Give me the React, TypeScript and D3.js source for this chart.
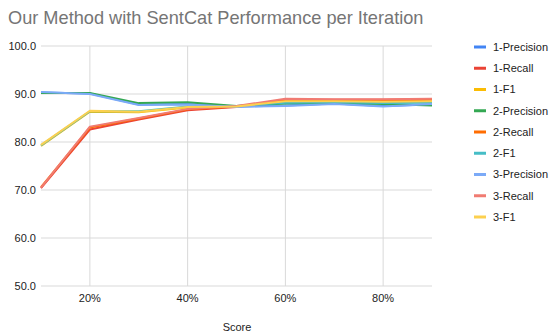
import React from "react";
import * as d3 from "d3";

// Iteration share (%) on the x axis
const iterations = [10, 20, 30, 40, 50, 60, 70, 80, 90];

const seriesNames = [
  "1-Precision", "1-Recall", "1-F1",
  "2-Precision", "2-Recall", "2-F1",
  "3-Precision", "3-Recall", "3-F1",
];

const precision1 = [90.3, 90.1, 87.8, 87.9, 87.4, 87.6, 88.0, 87.5, 87.8];
const recall1 = [70.4, 82.6, 84.7, 86.6, 87.3, 88.8, 88.8, 88.8, 88.9];
const f1_1 = [79.2, 86.3, 86.2, 87.2, 87.4, 88.4, 88.4, 88.3, 88.4];
const precision2 = [90.2, 90.2, 88.1, 88.3, 87.5, 88.0, 88.1, 87.9, 87.6];
const recall2 = [70.6, 83.0, 84.9, 86.8, 87.4, 88.7, 88.7, 88.6, 88.8];
const f1_2 = [79.3, 86.4, 86.4, 87.4, 87.5, 88.2, 88.3, 88.1, 88.2];
const precision3 = [90.4, 90.0, 87.7, 87.8, 87.3, 87.5, 87.9, 87.4, 87.9];
const recall3 = [70.5, 83.2, 85.0, 86.9, 87.5, 89.0, 88.9, 88.9, 89.0];
const f1_3 = [79.4, 86.5, 86.3, 87.3, 87.4, 88.5, 88.5, 88.4, 88.5];

const seriesValues = [
  precision1, recall1, f1_1,
  precision2, recall2, f1_2,
  precision3, recall3, f1_3,
];

const colors = [
  "#4285F4", "#EA4335", "#FBBC04",
  "#34A853", "#FF6D01", "#46BDC6",
  "#7BAAF7", "#F07B72", "#FCD04F",
];

const yTicks = [50, 60, 70, 80, 90, 100];
const xTicks = [20, 40, 60, 80];

const W = 550;
const H = 333;
const FONT = "Arial, 'Liberation Sans', sans-serif";

export default function App() {
  const x = d3.scaleLinear().domain([10, 90]).range([41, 432]);
  const y = d3.scaleLinear().domain([50, 100]).range([286, 46]);
  const line = d3
    .line<[number, number]>()
    .x((d) => x(d[0]))
    .y((d) => y(d[1]));

  return (
    <svg
      width={W}
      height={H}
      style={{ position: "absolute", left: 0, top: 0, background: "#fff" }}
      fontFamily={FONT}
    >
      <rect width={W} height={H} fill="#fff" />
      <text x={8} y={24} fontSize={18.2} fill="#757575">
        Our Method with SentCat Performance per Iteration
      </text>

      {/* grid */}
      {yTicks.map((t) => (
        <line key={"h" + t} x1={41} x2={432} y1={y(t)} y2={y(t)} stroke="#d9d9d9" strokeWidth={1} />
      ))}
      {xTicks.map((t) => (
        <line key={"v" + t} x1={x(t)} x2={x(t)} y1={y(100)} y2={y(50)} stroke="#d9d9d9" strokeWidth={1} />
      ))}

      {/* y tick labels */}
      {yTicks.map((t) => (
        <text key={"yl" + t} x={36} y={y(t)} dy="0.35em" textAnchor="end" fontSize={11} fill="#222">
          {t.toFixed(1)}
        </text>
      ))}
      {/* x tick labels */}
      {xTicks.map((t) => (
        <text key={"xl" + t} x={x(t)} y={302} textAnchor="middle" fontSize={11} fill="#222">
          {t + "%"}
        </text>
      ))}
      <text x={237} y={331} textAnchor="middle" fontSize={11} fill="#222">
        Score
      </text>

      {/* series */}
      {seriesValues.map((vals, i) => (
        <path
          key={seriesNames[i]}
          d={line(iterations.map((it, j) => [it, vals[j]] as [number, number])) || ""}
          fill="none"
          stroke={colors[i]}
          strokeWidth={2}
          strokeLinejoin="round"
        />
      ))}

      {/* legend */}
      {seriesNames.map((name, i) => {
        const ly = 47 + i * 21.25;
        return (
          <g key={"lg" + name}>
            <line x1={474} x2={486} y1={ly} y2={ly} stroke={colors[i]} strokeWidth={3} />
            <text x={493} y={ly} dy="0.35em" fontSize={11} fill="#222">
              {name}
            </text>
          </g>
        );
      })}
    </svg>
  );
}
